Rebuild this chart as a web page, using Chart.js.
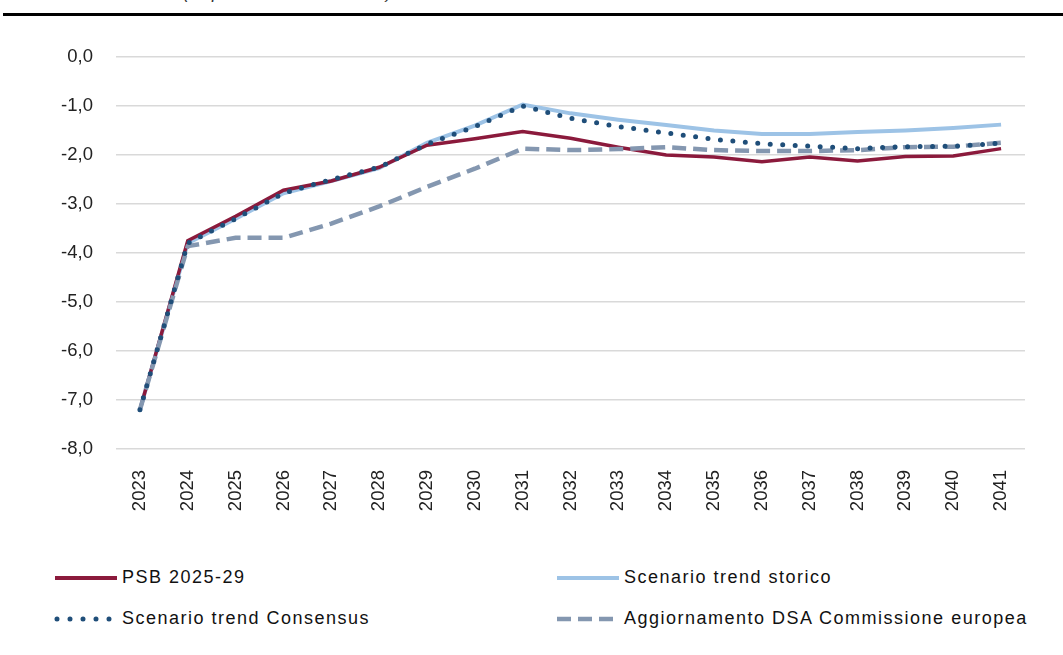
<!DOCTYPE html>
<html lang="it">
<head>
    <meta charset="UTF-8">
    <title>Saldo di bilancio</title>
    <style>
        body {
            margin: 0;
            padding: 0;
            background: #ffffff;
            font-family: 'Liberation Sans', Arial, sans-serif;
            color: #222;
            width: 1063px;
            height: 655px;
            overflow: hidden;
            position: relative;
        }

        .subtitle {
            position: absolute;
            left: 183px;
            top: -18px;
            font-size: 18px;
            font-style: italic;
            letter-spacing: 1px;
            color: #333;
            white-space: nowrap;
        }

        .rule {
            position: absolute;
            left: 3px;
            right: 0;
            top: 13px;
            height: 3px;
            background: #000;
        }

        .chart-box {
            position: absolute;
            left: 0;
            top: 0;
            width: 1063px;
            height: 540px;
        }

        .legend-item {
            position: absolute;
            display: flex;
            align-items: center;
            font-size: 18px;
            letter-spacing: 1.5px;
            white-space: nowrap;
            color: #111;
        }

        .legend-item svg {
            margin-right: 4px;
        }
    </style>
</head>
<body>

<div class="subtitle">(in percentuale del PIL)</div>
<div class="rule"></div>

<div class="chart-box">
    <canvas id="saldoChart"></canvas>
</div>

<div class="legend-item" style="left:54px; top:567px;">
    <svg width="64" height="8"><line x1="1" y1="4" x2="63" y2="4" stroke="#8b1a3c" stroke-width="4"/></svg>PSB 2025-29
</div>
<div class="legend-item" style="left:556px; top:567px;">
    <svg width="64" height="8"><line x1="1" y1="4" x2="63" y2="4" stroke="#9dc3e6" stroke-width="4"/></svg>Scenario trend storico
</div>
<div class="legend-item" style="left:54px; top:608px;">
    <svg width="64" height="8"><line x1="3" y1="4" x2="63" y2="4" stroke="#1f4e79" stroke-width="5" stroke-linecap="round" stroke-dasharray="0 13"/></svg>Scenario trend Consensus
</div>
<div class="legend-item" style="left:556px; top:608px;">
    <svg width="64" height="8"><line x1="1" y1="4" x2="63" y2="4" stroke="#8497b0" stroke-width="4.5" stroke-dasharray="14 7"/></svg>Aggiornamento DSA Commissione europea
</div>

<script src="https://cdn.jsdelivr.net/npm/chart.js"></script>
<script>
    const years = ['2023', '2024', '2025', '2026', '2027', '2028', '2029', '2030', '2031', '2032',
                   '2033', '2034', '2035', '2036', '2037', '2038', '2039', '2040', '2041'];

    const psb = [-7.2, -3.75, -3.25, -2.72, -2.53, -2.25, -1.8, -1.67, -1.52, -1.66,
                 -1.84, -2.0, -2.04, -2.14, -2.04, -2.12, -2.03, -2.02, -1.87];

    const trendStorico = [-7.2, -3.8, -3.3, -2.78, -2.53, -2.27, -1.75, -1.4, -0.97, -1.15,
                          -1.28, -1.39, -1.5, -1.57, -1.57, -1.53, -1.5, -1.45, -1.38];

    const trendConsensus = [-7.2, -3.8, -3.3, -2.78, -2.5, -2.25, -1.78, -1.42, -1.0, -1.25,
                            -1.42, -1.55, -1.68, -1.77, -1.82, -1.87, -1.83, -1.82, -1.76];

    const dsaCommissione = [-7.2, -3.86, -3.69, -3.69, -3.4, -3.05, -2.65, -2.28, -1.87, -1.9,
                            -1.88, -1.84, -1.9, -1.92, -1.92, -1.9, -1.84, -1.83, -1.75];

    const yTicks = [0, -1, -2, -3, -4, -5, -6, -7, -8];

    const ctx = document.getElementById('saldoChart').getContext('2d');
    const saldoChart = new Chart(ctx, {
        type: 'line',
        data: {
            labels: years,
            datasets: [{
                label: 'PSB 2025-29',
                data: psb,
                borderColor: '#8b1a3c',
                borderWidth: 3.5,
                order: 3
            }, {
                label: 'Scenario trend storico',
                data: trendStorico,
                borderColor: '#9dc3e6',
                borderWidth: 4,
                order: 4
            }, {
                label: 'Scenario trend Consensus',
                data: trendConsensus,
                borderColor: '#1f4e79',
                borderWidth: 5,
                borderDash: [0, 12.5],
                borderCapStyle: 'round',
                order: 1
            }, {
                label: 'Aggiornamento DSA Commissione europea',
                data: dsaCommissione,
                borderColor: '#8497b0',
                borderWidth: 4.5,
                borderDash: [14, 7],
                order: 2
            }]
        },
        options: {
            responsive: true,
            maintainAspectRatio: false,
            animation: false,
            layout: {
                padding: { top: 57, right: 38, left: 0, bottom: 0 }
            },
            elements: {
                point: { radius: 0 },
                line: { tension: 0, fill: false }
            },
            plugins: {
                legend: { display: false },
                tooltip: { enabled: false }
            },
            scales: {
                x: {
                    offset: true,
                    grid: { display: false },
                    border: { display: false },
                    ticks: {
                        minRotation: 90,
                        maxRotation: 90,
                        padding: 13,
                        color: '#222',
                        font: { family: 'Liberation Sans', size: 18.5 }
                    },
                    afterFit: function (scale) {
                        scale.height = 91;
                    }
                },
                y: {
                    min: -8,
                    max: 0,
                    afterBuildTicks: function (scale) {
                        scale.ticks = yTicks.map(v => ({ value: v }));
                    },
                    grid: {
                        color: '#d9d9d9',
                        lineWidth: 1.5,
                        drawTicks: false
                    },
                    border: { display: false },
                    ticks: {
                        padding: 23,
                        color: '#222',
                        font: { family: 'Liberation Sans', size: 18.5 },
                        callback: function (value) {
                            return value.toFixed(1).replace('.', ',');
                        }
                    },
                    afterFit: function (scale) {
                        scale.width = 116;
                    }
                }
            }
        }
    });
</script>

</body>
</html>
